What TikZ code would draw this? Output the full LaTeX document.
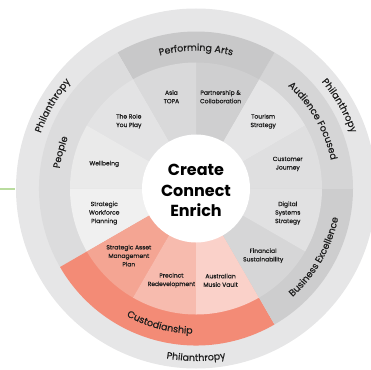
\documentclass[tikz,border=0pt]{standalone}
\usepackage{fontspec}
\setmainfont{Poppins}
\newfontfamily\segfamily[FakeBold=0.7]{Poppins}
\newfontfamily\catfamily[FakeBold=0.4]{Poppins}
\usepackage{tikz}
\usetikzlibrary{decorations.text}

\definecolor{ringgrey}{HTML}{E6E6E7}
\definecolor{peoplegrey}{HTML}{DCDCDD}
\definecolor{artsgrey}{HTML}{C8C8C9}
\definecolor{audiencegrey}{HTML}{D5D5D6}
\definecolor{businessgrey}{HTML}{CDCDCE}
\definecolor{custodysalmon}{HTML}{F38B76}
\definecolor{journeyfill}{HTML}{DFDFE0}
\definecolor{tourismfill}{HTML}{E5E5E6}
\definecolor{partnerfill}{HTML}{CFCFD0}
\definecolor{asiafill}{HTML}{D9D9DA}
\definecolor{rolefill}{HTML}{E3E3E4}
\definecolor{wellbeingfill}{HTML}{EAEAEA}
\definecolor{workforcefill}{HTML}{F0F0F0}
\definecolor{assetfill}{HTML}{F4A593}
\definecolor{precinctfill}{HTML}{F7BBAE}
\definecolor{vaultfill}{HTML}{FAD1C9}
\definecolor{financialfill}{HTML}{D6D6D7}
\definecolor{digitalfill}{HTML}{E1E1E2}
\definecolor{leafgreen}{HTML}{B9DC9E}
\definecolor{inkgrey}{HTML}{1E1E1E}

\newcommand{\segfont}{\segfamily\fontsize{6}{8.5}\selectfont}
\newcommand{\catfont}{\catfamily\fontsize{9.5}{11}\selectfont}
\newcommand{\midfont}{\fontsize{16}{20.5}\selectfont\bfseries}
\newcommand{\arclabel}[4]{\path[decorate,decoration={text along path,text align=center,text color=inkgrey,text={|\catfont|#4}}] (#2:#1) arc[start angle=#2,end angle=#3,radius=#1];}

\begin{document}
\begin{tikzpicture}[x=1pt,y=1pt,
  seg/.style={align=center,font=\segfont,text=inkgrey,inner sep=0pt}]
  \useasboundingbox (-196,-180.5) rectangle (175,188.5);
  \coordinate (g1) at (-196,-0.5);
  \coordinate (g2) at (-181,-0.5);
  \draw[leafgreen,line width=1.2pt] (g1) -- (g2);

  \fill[ringgrey] (0,0) circle[radius=180];
  \foreach \a/\b/\c in {0/60/audiencegrey,60/120/artsgrey,120/210/peoplegrey,210/300/custodysalmon,300/360/businessgrey}
    \fill[\c] (0,0) -- (\a:157) arc[start angle=\a,end angle=\b,radius=157] -- cycle;
  \foreach \a/\c in {0/journeyfill,30/tourismfill,60/partnerfill,90/asiafill,120/rolefill,150/wellbeingfill,180/workforcefill,210/assetfill,240/precinctfill,270/vaultfill,300/financialfill,330/digitalfill}
    \fill[\c] (0,0) -- (\a:126) arc[start angle=\a,delta angle=30,radius=126] -- cycle;
  \fill[white] (0,0) circle[radius=54];

  \node (centre) at (0,-2)[align=center,font=\midfont,text=black]{Create\\Connect\\Enrich};

  \foreach \ang/\nm/\txt in {15/journey/Customer\\Journey,45/tourism/Tourism\\Strategy,75/partner/Partnership \&\\Collaboration,105/asia/Asia\\TOPA,135/role/The Role\\You Play,165/wellbeing/Wellbeing,195/workforce/Strategic\\Workforce\\Planning,225/asset/Strategic Asset\\Management\\Plan,255/precinct/Precinct\\Redevelopment,285/vault/Australian\\Music Vault,315/financial/Financial\\Sustainability,345/digital/Digital\\Systems\\Strategy}
    \node (\nm) at (\ang:95)[seg]{\txt};

  \arclabel{137.8}{130}{50}{Performing Arts}
  \arclabel{137.8}{205}{125}{People}
  \arclabel{137.8}{75}{-15}{Audience Focused}
  \arclabel{145.2}{280}{380}{Business Excellence}
  \arclabel{145.2}{205}{305}{Custodianship}
  \arclabel{164.8}{195}{105}{Philanthropy}
  \arclabel{164.8}{75}{-15}{Philanthropy}
  \arclabel{172.5}{225}{315}{Philanthropy}
\end{tikzpicture}
\end{document}
